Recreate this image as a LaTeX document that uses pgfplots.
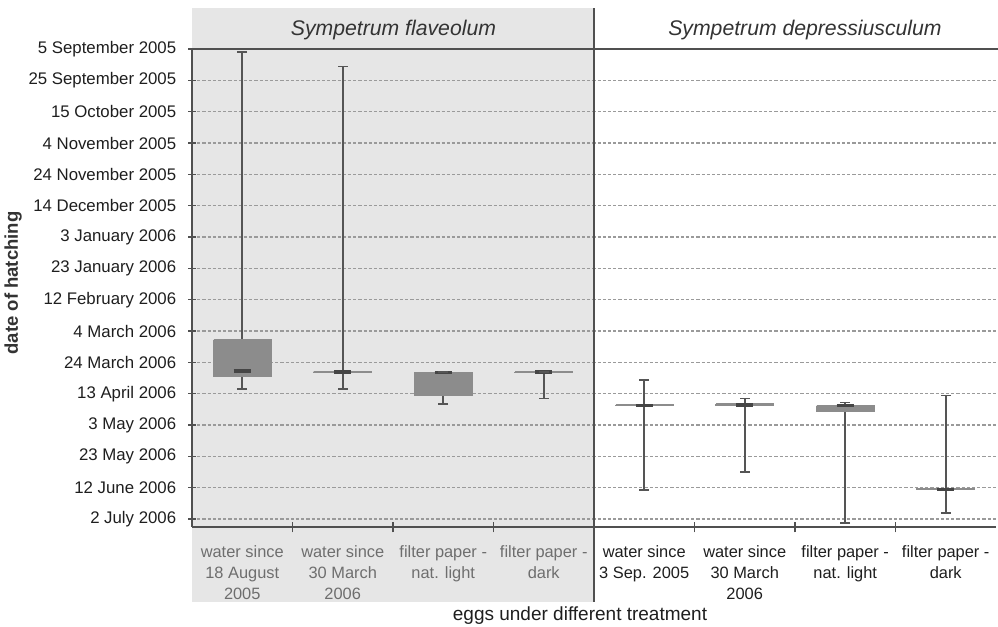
\documentclass[border=0pt]{standalone}
\usepackage{fontspec}
\setmainfont{Liberation Sans}
\usepackage{pgfplots}
\pgfplotsset{compat=1.18}
\definecolor{bgl}{HTML}{E6E6E6}
\definecolor{boxf}{HTML}{8C8C8C}
\definecolor{whisk}{HTML}{555555}
\definecolor{medc}{HTML}{454545}
\definecolor{axc}{HTML}{505050}
\definecolor{gridc}{HTML}{9A9A9A}
\definecolor{lgtxt}{HTML}{6E6E6E}
\definecolor{dtxt}{HTML}{1E1E1E}
\definecolor{ttxt}{HTML}{333333}
\newcommand{\lgt}[1]{\textcolor{lgtxt}{#1}}
% y values: minus the number of days after 5 September 2005
\pgfplotsset{
  whisker/.style={whisk, line width=0.8pt, mark=-, mark size=2.4pt, mark options={solid, line width=0.8pt}},
  boxst/.style={draw=boxf, fill=boxf, line width=0.7pt, mark=none},
  medst/.style={medc, line width=1.6pt, mark=none},
}
\begin{document}
\begin{tikzpicture}
\useasboundingbox (-96pt,-50pt) rectangle (403pt,263.5pt);
\fill[bgl] (0pt,-37.5pt) rectangle (201pt,259.5pt);
\begin{axis}[
  scale only axis, width=402pt, height=239pt,
  xmin=0.5, xmax=8.5, ymin=-305.1, ymax=0,
  axis x line*=bottom, axis y line*=left,
  axis line style={axc, line width=0.65pt},
  tick align=center,
  xtick={1,...,8},
  major x tick style={draw=none},
  minor xtick={1.5,2.5,...,7.5}, minor tick length=5.3pt,
  xticklabels={
    {\lgt{water since}\\\lgt{18 August}\\\lgt{2005}},
    {\lgt{water since}\\\lgt{30 March}\\\lgt{2006}},
    {\lgt{filter paper -}\\\lgt{nat. light}},
    {\lgt{filter paper -}\\\lgt{dark}},
    {water since\\3 Sep. 2005},
    {water since\\30 March\\2006},
    {filter paper -\\nat. light},
    {filter paper -\\dark}},
  xticklabel style={font=\fontsize{8.2}{10.5}\selectfont, align=center, text=dtxt, yshift=-4pt},
  ytick={-300,-280,...,0},
  yticklabels={2 July 2006, 12 June 2006, 23 May 2006, 3 May 2006, 13 April 2006,
    24 March 2006, 4 March 2006, 12 February 2006, 23 January 2006, 3 January 2006,
    14 December 2005, 24 November 2005, 4 November 2005, 15 October 2005,
    25 September 2005, 5 September 2005},
  major tick length=3.75pt,
  yticklabel style={font=\fontsize{8.4}{10}\selectfont, text=dtxt, xshift=-2.5pt},
  tick style={axc, line width=0.65pt},
  ymajorgrids, major grid style={gridc, dash pattern=on 1.6pt off 1pt, line width=0.55pt},
  clip=false,
  xlabel={eggs under different treatment},
  xlabel style={at={(axis description cs:0.4826,-0.1862)}, anchor=center,
    font=\fontsize{9.5}{11}\selectfont, text=dtxt},
  ylabel={date of hatching},
  ylabel style={at={(axis description cs:-0.2226,0.5105)}, anchor=center,
    font=\fontsize{9.25}{11}\selectfont\bfseries, text=ttxt},
]
% 1: water since 18 August 2005
\addplot[whisker] coordinates {(1,-2.1) (1,-217.0)};
\addplot[boxst] coordinates {(0.715,-185.7) (1.285,-185.7) (1.285,-208.9) (0.715,-208.9) (0.715,-185.7)};
\addplot[medst] coordinates {(0.915,-205.5) (1.085,-205.5)};
% 2: water since 30 March 2006
\addplot[whisker] coordinates {(2,-11.3) (2,-217.0)};
\addplot[boxst] coordinates {(1.715,-206.0) (2.285,-206.0) (2.285,-206.2) (1.715,-206.2) (1.715,-206.0)};
\addplot[medst] coordinates {(1.915,-206.2) (2.085,-206.2)};
% 3: filter paper - nat. light
\addplot[whisker] coordinates {(3,-206.0) (3,-226.6)};
\addplot[boxst] coordinates {(2.715,-206.3) (3.285,-206.3) (3.285,-221.3) (2.715,-221.3) (2.715,-206.3)};
\addplot[medst] coordinates {(2.915,-206.3) (3.085,-206.3)};
% 4: filter paper - dark
\addplot[whisker] coordinates {(4,-206.0) (4,-223.2)};
\addplot[boxst] coordinates {(3.715,-206.1) (4.285,-206.1) (4.285,-206.3) (3.715,-206.3) (3.715,-206.1)};
\addplot[medst] coordinates {(3.915,-206.2) (4.085,-206.2)};
% 5: water since 3 Sep. 2005
\addplot[whisker] coordinates {(5,-211.3) (5,-281.5)};
\addplot[boxst] coordinates {(4.715,-227.3) (5.285,-227.3) (5.285,-227.5) (4.715,-227.5) (4.715,-227.3)};
\addplot[medst] coordinates {(4.915,-227.4) (5.085,-227.4)};
% 6: water since 30 March 2006
\addplot[whisker] coordinates {(6,-223.2) (6,-270.0)};
\addplot[boxst] coordinates {(5.715,-226.6) (6.285,-226.6) (6.285,-227.4) (5.715,-227.4) (5.715,-226.6)};
\addplot[medst] coordinates {(5.915,-227.2) (6.085,-227.2)};
% 7: filter paper - nat. light
\addplot[whisker] coordinates {(7,-225.7) (7,-302.6)};
\addplot[boxst] coordinates {(6.715,-227.6) (7.285,-227.6) (7.285,-231.3) (6.715,-231.3) (6.715,-227.6)};
\addplot[medst] coordinates {(6.915,-227.6) (7.085,-227.6)};
% 8: filter paper - dark
\addplot[whisker] coordinates {(8,-221.1) (8,-296.0)};
\addplot[boxst] coordinates {(7.715,-280.4) (8.285,-280.4) (8.285,-281.1) (7.715,-281.1) (7.715,-280.4)};
\addplot[medst] coordinates {(7.915,-281.1) (8.085,-281.1)};
\end{axis}
\draw[axc, line width=0.65pt] (0pt,239pt) -- (403pt,239pt);
\draw[axc, line width=0.65pt] (201pt,-37.5pt) -- (201pt,259.5pt);
\node[font=\fontsize{10.6}{12}\selectfont\itshape, text=ttxt] at (100.75pt,248.25pt) {Sympetrum flaveolum};
\node[font=\fontsize{10.6}{12}\selectfont\itshape, text=ttxt] at (306.5pt,248.25pt) {Sympetrum depressiusculum};
\end{tikzpicture}
\end{document}
